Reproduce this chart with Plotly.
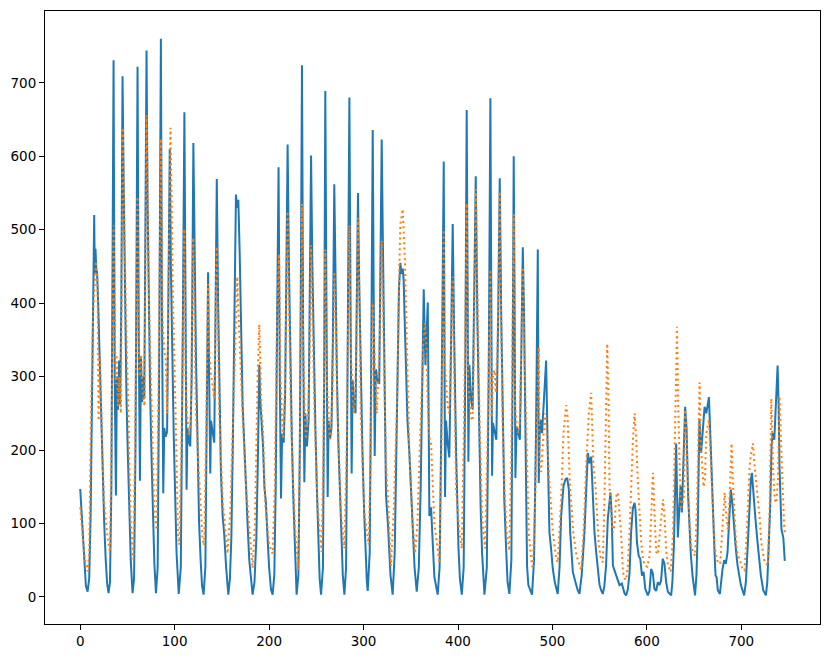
import plotly.graph_objects as go

# Actual series (blue, solid)
actual_x = [
    0, 2, 4, 6, 7.8, 9.5, 11, 12.5, 13.8, 14.8, 15.4, 16.2, 17, 17.8, 19, 20.5, 22, 23.6, 25.4, 27, 28.5, 30,
    31.5, 33, 34.3, 35.3, 36.5, 37.8, 38.8, 40, 41.2, 42.3, 43.5, 44.8, 46, 47.5, 49, 50.5, 52, 53.5, 55.4,
    57, 58.5, 59.6, 60.7, 62, 63.2, 64.3, 65.5, 66.6, 67.8, 69, 70.2, 71.3, 72.6, 74, 75.5, 77, 78.5, 80.2,
    82, 83.5, 85.4, 86.5, 87.9, 89, 90.5, 92, 93.3, 94.8, 96, 97.5, 99, 100.5, 102, 104.3,
    106.5, 108.5, 110.3, 111.5, 112.6, 113.6, 115, 116.5, 118, 119.8, 121, 122.5, 124, 125.8, 127.5, 129, 130.6,
    132.5, 134, 135.4, 136.5, 137.7, 138.5, 140, 141.9, 143, 144.6, 146, 147.5, 149, 150.8, 152.5, 154.5, 156.8,
    158.5, 160, 161.5, 163, 164.9, 166, 167.4, 168.8, 170.5, 172, 173.7, 175, 177.2, 179, 180.8, 182.5,
    184.5, 186.5, 188, 189.6, 190.5, 191.3, 192.5, 193.5, 195, 196.5, 198, 200, 202, 203.7,
    205.5, 207, 208.5, 210, 211.3, 212.6, 213.8, 215.5, 217, 218.3, 219.6, 221, 222.5, 224, 225.5, 227, 228.2, 229.1,
    231, 232.5, 233.8, 234.8, 236, 237.3, 238.4, 240, 241.8, 243, 244.4, 245.8, 247.3, 249, 250.5, 252, 253.5, 255,
    257, 258.3, 259.5, 260.7, 262, 263, 264.5, 266, 267.5, 269, 270.3, 271.8, 273.3, 275, 276.5, 278, 279.7,
    281.5, 283, 285, 286.2, 287.4, 288.4, 290, 291.5, 292.8, 294.1, 295.5, 297, 298.8, 300.5, 302, 303.5, 304.4,
    306.5, 308, 309.7, 310.8, 311.8, 313, 314.8, 316.6, 318, 319.2, 320.5, 322, 323.8, 326, 328.5, 330.8,
    333, 334.5, 336, 337.5, 339, 340, 341.5, 342.5, 343.5, 345, 346.5, 348.5, 350, 352, 354, 356.3,
    358.5, 360.5, 362.3, 363.7, 365.5, 368, 369.7, 371.5, 373, 375, 378.5,
    380.5, 382.5, 384.9, 386.3, 387.3, 389, 390.8, 392.5, 394.4, 396, 398, 400.5, 402, 404,
    406, 407.8, 409.2, 410.2, 411, 412, 413.8, 415.5, 417, 418.8, 420.5, 422.7, 424, 425.5, 427, 428,
    430.5, 432.5, 434.3, 435.3, 436.1, 437, 438.8, 440.6, 442.5, 444.2, 445.8, 447.4, 449, 450.8, 452.5, 454.4,
    456.5, 457.8, 459, 460, 460.8, 462, 463.8, 465.5, 467, 468.6, 470, 471.4, 472.1, 473.1, 474.5, 476, 478.4,
    480.5, 482.6, 484.5, 485.5, 486.5, 487.8, 489, 490.5, 493.3, 495, 496.8, 498.6, 500.4, 502.5, 504, 505.6,
    507.5, 509.2, 511.7, 513.8, 515.6, 517.4, 518.8, 521.6, 524.4, 526.5, 528.6,
    531, 533.9, 535.5, 537.4, 539.2, 541, 542.7, 544.5, 546.3, 548, 549.8, 551.5, 553.3,
    555, 556.8, 558.6, 560.4, 561.4, 562.8, 564, 565.7, 567.5, 569.2, 571, 573.5, 576.3, 578,
    579.8, 581.6, 583.3, 585.1, 586.9, 588, 589.5, 591.3, 593, 594.8, 596.5, 598.3, 601,
    602.7, 604.5, 606.3, 608, 609.8, 611.6, 613.3, 615, 616.8, 618.6, 620.4, 622.2, 625.7,
    627, 628.6, 631, 632.8, 633.9, 635.6, 637, 638.8, 640.5, 642, 643.7, 646.5, 648.3, 651,
    652.5, 653.8, 655.6, 657.4, 659.3, 661.1, 662.9, 664.6, 665.7, 667.1, 669.2, 670.6, 671.6, 672.7, 673.8, 675.1, 677.3,
    680.1, 681.9, 683.6, 685.4, 687.2, 688.9, 690.7, 692.5, 694.2, 696, 699.5, 703,
    704.8, 706.6, 708.3, 710.1, 711.2, 712.5, 714.7, 717.2, 719, 720.7, 723.2, 726,
    727.5, 728.8, 730.6, 732, 733.1, 734.9, 735.9, 737.3, 738.4, 739.5, 740.4, 742.5, 744.5, 746,
]
actual_y = [
    147, 105, 55, 15, 7, 25, 110, 260, 420, 520, 440, 474, 444, 443, 400, 320, 250, 196, 100, 50, 18, 5,
    20, 150, 450, 731, 300, 138, 300, 255, 322, 262, 400, 709, 560, 380, 270, 190, 110, 50, 5,
    25, 200, 480, 722, 350, 158, 325, 265, 300, 270, 500, 744, 540, 390, 280, 190, 110, 45, 5,
    40, 300, 760, 400, 141, 230, 218, 225, 400, 610, 450, 320, 220, 140, 60, 4,
    40, 350, 660, 400, 146, 230, 212, 205, 300, 618, 470, 330, 230, 103, 50, 15, 3,
    40, 250, 442, 300, 168, 240, 225, 210, 350, 569, 400, 250, 168, 110, 85, 40, 3,
    25, 80, 200, 380, 548, 530, 541, 470, 330, 260, 208, 160, 99, 50, 20, 3,
    20, 80, 180, 316, 270, 252, 240, 207, 150, 130, 90, 40, 10, 3,
    30, 150, 380, 585, 300, 134, 222, 210, 280, 420, 616, 450, 320, 220, 140, 70, 20, 3,
    30, 200, 480, 724, 370, 156, 250, 205, 240, 400, 601, 450, 330, 230, 150, 80, 25, 3,
    40, 300, 689, 400, 136, 240, 215, 230, 350, 562, 420, 300, 210, 140, 80, 30, 3,
    40, 300, 680, 400, 168, 295, 260, 250, 380, 550, 420, 300, 200, 120, 60, 20, 8,
    60, 300, 636, 400, 192, 310, 295, 290, 450, 623, 480, 330, 138, 95, 30, 3,
    60, 180, 342, 420, 455, 440, 447, 430, 380, 300, 240, 196, 150, 100, 40, 7,
    40, 150, 300, 419, 316, 401, 110, 122, 80, 27, 3,
    40, 250, 593, 136, 240, 210, 190, 330, 508, 350, 196, 67, 25, 3,
    40, 330, 663, 420, 184, 316, 270, 255, 400, 573, 380, 196, 120, 60, 20, 3,
    40, 300, 679, 380, 165, 237, 225, 214, 380, 570, 380, 223, 133, 70, 20, 4,
    50, 300, 600, 380, 162, 232, 224, 214, 330, 476, 380, 223, 133, 42, 16, 10, 3,
    50, 223, 473, 155, 223, 241, 223, 260, 322, 200, 88, 65, 38, 20, 11, 4,
    40, 110, 151, 160, 162, 146, 88, 34, 20, 10, 4,
    30, 88, 150, 196, 182, 191, 141, 88, 61, 43, 17, 9, 4,
    15, 43, 106, 137, 142, 110, 43, 36, 29, 25, 16, 18, 5, 2,
    10, 32, 88, 120, 128, 118, 74, 56, 52, 29, 34, 11, 2,
    8, 38, 32, 11, 8, 20, 16, 22, 52, 45, 20, 7, 2,
    20, 70, 209, 81, 115, 151, 115, 178, 259, 230, 137, 58, 29, 2,
    30, 88, 241, 196, 232, 259, 250, 262, 272, 223, 133, 88, 61, 29, 27, 9, 4,
    38, 50, 45, 61, 106, 146, 124, 88, 65, 43, 16, 2,
    20, 65, 124, 160, 169, 142, 110, 74, 47, 29, 9, 2,
    20, 65, 124, 205, 223, 214, 241, 286, 315, 260, 178, 92, 80, 49,
]

# Predicted series (orange, dotted)
pred_x = [
    0, 2, 4, 6.7, 7.8, 9.5, 11.3, 13.8, 16.6, 17.5, 18.3, 19.4, 20.5, 21.5, 22.5, 23.5, 25.2, 27, 29, 31.4,
    33, 35.3, 36.5, 37.5, 38.5, 40, 41.5, 43, 45, 46.5, 48.3, 51, 53.3, 56.1,
    58, 60.7, 62, 63, 64.5, 66, 68, 70.2, 71.5, 73, 75.8, 78.3, 80.9,
    83, 85.4, 87, 89, 90.5, 92, 95.5, 96.8, 98.4, 101, 103.5, 104.9,
    107, 110.2, 111.5, 113, 115, 117, 119.7, 121, 122.5, 126, 129.5, 131.2,
    133, 135.3, 136.8, 138.4, 140, 141.9, 144.4, 145.8, 147.2, 150.8, 154, 156,
    159, 161, 163, 166.3, 167.3, 169.5, 171.8, 175.3, 178.8, 182.5,
    185, 187.8, 189.6, 191, 192, 193.5, 195.6, 200.2, 203.7,
    206, 208, 210.5, 212, 213.5, 215, 217, 219.6, 221, 223, 225.5, 227.6, 230.9,
    232.5, 234.8, 236, 237.5, 239, 241, 242.5, 244.4, 246, 248, 251.5, 255.6,
    257.5, 259.5, 261, 262.5, 264, 266, 267.5, 269, 270.5, 272.5, 276, 279.7,
    282, 285, 286.5, 288, 289.5, 291, 292.5, 294.1, 295.5, 297, 300.7, 305.4,
    307.5, 309.7, 311, 312.5, 314, 315.5, 317, 319.2, 320.5, 322, 323.8, 326, 329,
    332, 334, 336, 337.5, 339, 341.5, 342.5, 344, 345, 348.5, 352, 354.6,
    357, 361, 363, 365.1, 366.5, 368, 369.7, 371.5, 373, 375, 380.3,
    382.5, 384.9, 386, 387.5, 389, 390.8, 392.5, 394.4, 396, 398, 401.5, 404,
    406.5, 409.2, 410.5, 412, 413.5, 415.5, 417, 418.8, 420.5, 422.7, 425.5, 428.7,
    431, 434.3, 435.5, 437, 438.5, 440, 442, 444.2, 445.5, 447, 449, 451.5, 454.4,
    456.5, 459, 460.5, 462, 463.8, 465.5, 466.8, 468.6, 470, 471.4, 472.8, 474.9, 477.4, 479.1,
    481.5, 483.5, 485.5, 486.5, 488, 490, 492, 493.8, 495, 496.8, 500.4, 504, 505.6,
    509.2, 511.7, 514.5, 516, 518.4, 522, 525.5, 530.4,
    533, 535.7, 538.5, 541, 543.4, 545.6, 547.3, 549.1, 550.9, 553.4,
    555.2, 556.9, 558, 559.4, 560.4, 561.5, 564, 565.7, 567.5, 569.3, 571, 572.8, 574.6, 576.4, 578,
    579.9, 581.6, 583.4, 585.2, 587, 588.7, 590.5, 592.3, 594, 595.8, 597.6, 600.4,
    602.9, 604.6, 606.4, 608.2, 609.9, 611.7, 613.5, 615.2, 617, 618.8, 620.6, 622.3, 625.2,
    627.7, 629.5, 631.9, 633, 634.8, 635.9, 637.5, 639.1, 640.5, 642, 643.4, 645.1, 646.9, 648.7, 651.1,
    653.2, 655.8, 657, 658.5, 660, 661.5, 662.9, 665.7, 667, 668.1, 669.9, 671.6, 673.4, 675.1, 677.6,
    679.8, 681.2, 682.3, 684, 685.8, 687.6, 689.7, 691.1, 692.9, 694.6, 696.4, 698.2, 701, 703.4,
    705.8, 708.7, 710.5, 712.3, 714, 715.8, 717.5, 719.3, 721.1, 724.6, 728.2,
    730, 731.7, 733.5, 735.3, 737, 738.8, 740.5, 742.3, 744, 745.2, 746,
]
pred_y = [
    122, 95, 60, 37, 35, 60, 245, 390, 457, 445, 428, 240, 330, 300, 230, 196, 130, 105, 80, 61,
    200, 506, 330, 290, 330, 260, 300, 250, 639, 520, 390, 250, 105, 51,
    200, 545, 325, 300, 330, 280, 260, 656, 520, 390, 250, 120, 91,
    300, 624, 380, 335, 325, 250, 639, 540, 390, 250, 85, 71,
    200, 501, 300, 250, 220, 240, 489, 380, 250, 160, 78, 70,
    200, 426, 330, 305, 290, 270, 477, 380, 250, 130, 85, 59,
    120, 200, 300, 436, 396, 320, 250, 155, 92, 39,
    100, 300, 371, 300, 250, 230, 130, 70, 59,
    150, 350, 467, 300, 250, 215, 300, 525, 400, 250, 155, 92, 37,
    200, 535, 350, 260, 215, 240, 300, 479, 380, 250, 120, 61,
    200, 473, 300, 250, 215, 240, 300, 443, 380, 250, 116, 66,
    200, 506, 330, 290, 250, 270, 350, 516, 420, 250, 116, 71,
    200, 400, 340, 300, 250, 300, 343, 485, 400, 300, 180, 130, 42,
    120, 220, 290, 430, 508, 528, 500, 450, 390, 196, 100, 59,
    100, 250, 340, 373, 342, 260, 217, 208, 150, 100, 46,
    200, 500, 320, 290, 260, 250, 330, 436, 300, 145, 88, 66,
    250, 536, 300, 265, 245, 240, 350, 555, 400, 250, 107, 66,
    200, 446, 245, 300, 309, 278, 350, 552, 400, 250, 155, 88, 63,
    200, 521, 259, 235, 223, 240, 330, 449, 350, 268, 178, 88, 52, 38,
    120, 250, 340, 178, 170, 210, 250, 225, 190, 155, 88, 52, 47,
    133, 223, 261, 245, 155, 88, 56, 36,
    90, 178, 250, 278, 178, 150, 110, 70, 55, 47,
    142, 268, 345, 268, 151, 119, 88, 97, 137, 142, 110, 83, 34, 25, 23,
    43, 88, 155, 214, 250, 214, 155, 106, 74, 52, 43, 41,
    56, 110, 169, 110, 61, 58, 88, 110, 133, 106, 61, 43, 34,
    88, 223, 368, 268, 142, 119, 128, 133, 255, 223, 155, 101, 70, 61, 56,
    133, 292, 210, 180, 150, 160, 223, 241, 200, 169, 101, 70, 56, 47, 45,
    92, 115, 142, 110, 92, 137, 209, 155, 110, 70, 56, 52, 38, 36,
    88, 178, 196, 209, 178, 155, 142, 110, 74, 47, 43,
    124, 270, 178, 133, 128, 160, 273, 200, 133, 101, 88,
]

x_ticks = [0, 100, 200, 300, 400, 500, 600, 700]
y_ticks = [0, 100, 200, 300, 400, 500, 600, 700]

fig = go.Figure()
fig.add_trace(go.Scatter(
    x=actual_x, y=actual_y, mode="lines",
    line=dict(color="#1f77b4", width=2),
    showlegend=False,
))
fig.add_trace(go.Scatter(
    x=pred_x, y=pred_y, mode="lines",
    line=dict(color="#ff7f0e", width=2, dash="2px,3.3px"),
    showlegend=False,
))

axis_common = dict(
    showgrid=False, zeroline=False,
    showline=True, linecolor="black", linewidth=1, mirror=True,
    ticks="outside", ticklen=5, tickwidth=1, tickcolor="black",
    tickfont=dict(family="DejaVu Sans", size=13.5, color="black"),
)
fig.update_xaxes(range=[-37.3, 783.3], tickvals=x_ticks, **axis_common)
fig.update_yaxes(range=[-36.95, 797.95], tickvals=y_ticks, **axis_common)

# page body has an 8px default margin; size the figure so the frame lands where the reference's does
fig.update_layout(
    width=815, height=643,
    margin=dict(l=37, r=3, t=2, b=25),
    paper_bgcolor="white", plot_bgcolor="white",
)

fig.write_html("out.html")
